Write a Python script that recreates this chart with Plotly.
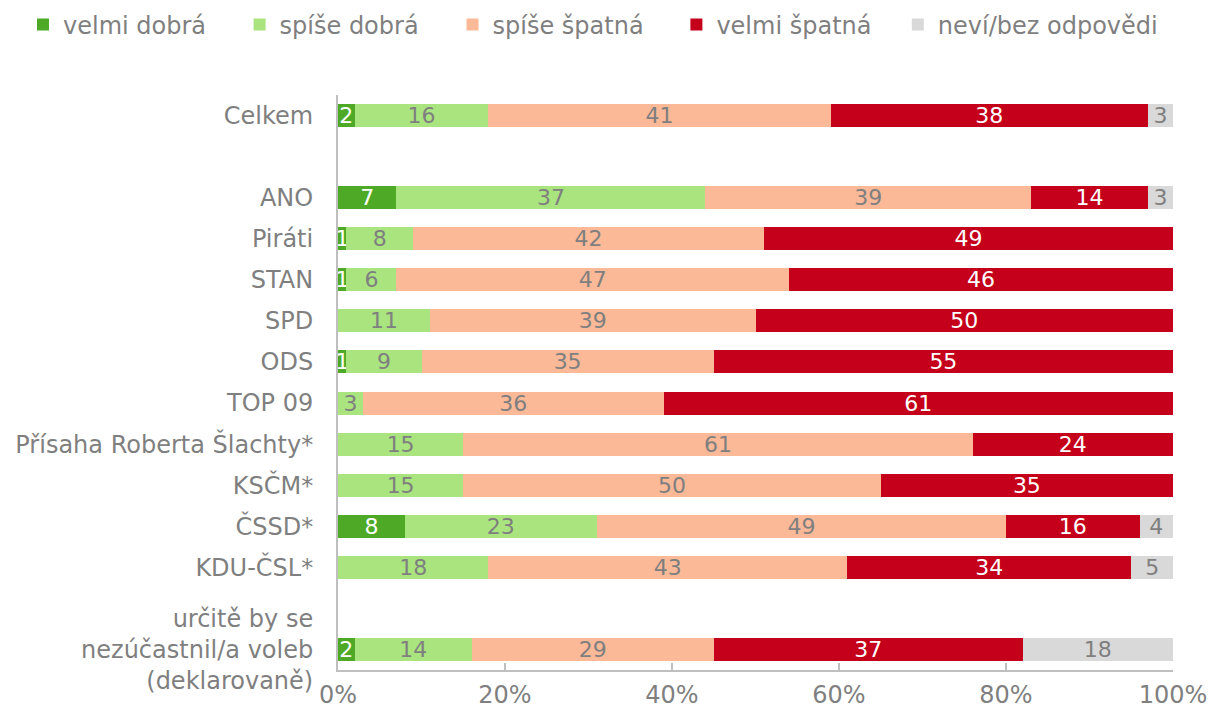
import plotly.graph_objects as go

categories = [
    "Celkem", " ", "ANO", "Piráti", "STAN", "SPD", "ODS", "TOP 09",
    "Přísaha Roberta Šlachty*", "KSČM*", "ČSSD*", "KDU-ČSL*", "  ",
    "určitě by se<br>nezúčastnil/a voleb<br>(deklarovaně)",
]

series_names = ["velmi dobrá", "spíše dobrá", "spíše špatná", "velmi špatná", "neví/bez odpovědi"]

velmi_dobra = [2, None, 7, 1, 1, None, 1, None, None, None, 8, None, None, 2]
spise_dobra = [16, None, 37, 8, 6, 11, 9, 3, 15, 15, 23, 18, None, 14]
spise_spatna = [41, None, 39, 42, 47, 39, 35, 36, 61, 50, 49, 43, None, 29]
velmi_spatna = [38, None, 14, 49, 46, 50, 55, 61, 24, 35, 16, 34, None, 37]
nevi = [3, None, 3, None, None, None, None, None, None, None, 4, 5, None, 18]

x_tick_vals = [0, 20, 40, 60, 80, 100]
x_tick_text = ["0%", "20%", "40%", "60%", "80%", "100%"]

colors = ["#4EAA26", "#A9E47F", "#FBB998", "#C4001A", "#D9D9D9"]
text_colors = ["white", "#7F7F7F", "#7F7F7F", "white", "#7F7F7F"]
# left edge of each legend entry (fraction of figure width)
legend_x = [0.019, 0.198, 0.374, 0.559, 0.742]

FONT = "DejaVu Sans"
GREY = "#7F7F7F"

fig = go.Figure()
legend_ids = ["legend", "legend2", "legend3", "legend4", "legend5"]
for name, vals, col, tcol, lid in zip(series_names,
                                      [velmi_dobra, spise_dobra, spise_spatna, velmi_spatna, nevi],
                                      colors, text_colors, legend_ids):
    fig.add_trace(go.Bar(
        name=name,
        y=categories,
        x=vals,
        orientation="h",
        legend=lid,
        marker=dict(color=col, line=dict(width=0)),
        text=["" if v is None else str(v) for v in vals],
        textposition="inside",
        insidetextanchor="middle",
        textangle=0,
        constraintext="none",
        textfont=dict(family=FONT, size=22, color=tcol),
        cliponaxis=False,
        hoverinfo="skip",
    ))

legend_common = dict(
    orientation="h",
    xref="container", yref="container",
    y=1 - 25 / 712, xanchor="left", yanchor="middle",
    font=dict(family=FONT, size=24, color=GREY),
    itemwidth=30,
    bgcolor="rgba(0,0,0,0)",
    borderwidth=0,
)

layout_legends = {}
for lid, lx in zip(legend_ids, legend_x):
    layout_legends[lid] = dict(legend_common, x=lx)

fig.update_layout(
    barmode="stack",
    bargap=0.44,
    width=1210,
    height=712,
    margin=dict(l=338, r=37, t=95, b=42, autoexpand=False),
    paper_bgcolor="white",
    plot_bgcolor="white",
    font=dict(family=FONT, size=24, color=GREY),
    uniformtext=dict(minsize=22, mode="show"),
    showlegend=True,
    xaxis=dict(
        range=[0, 100],
        tickvals=x_tick_vals,
        ticktext=x_tick_text,
        ticks="inside",
        ticklen=7,
        tickwidth=1.5,
        tickcolor="#BFBFBF",
        showline=True,
        linecolor="#BFBFBF",
        linewidth=2,
        showgrid=False,
        zeroline=False,
        automargin=False,
        tickfont=dict(family=FONT, size=24, color=GREY),
        ticklabelstandoff=2,
        fixedrange=True,
    ),
    yaxis=dict(
        categoryorder="array",
        categoryarray=categories,
        autorange="reversed",
        showline=True,
        linecolor="#BFBFBF",
        linewidth=2,
        ticks="",
        showgrid=False,
        zeroline=False,
        automargin=False,
        tickfont=dict(family=FONT, size=24, color=GREY),
        ticklabelstandoff=18,
        fixedrange=True,
    ),
    **layout_legends,
)

fig.write_html(
    "out.html",
    config={"displayModeBar": False, "staticPlot": True},
    post_script="document.body.style.margin='0';",
)
